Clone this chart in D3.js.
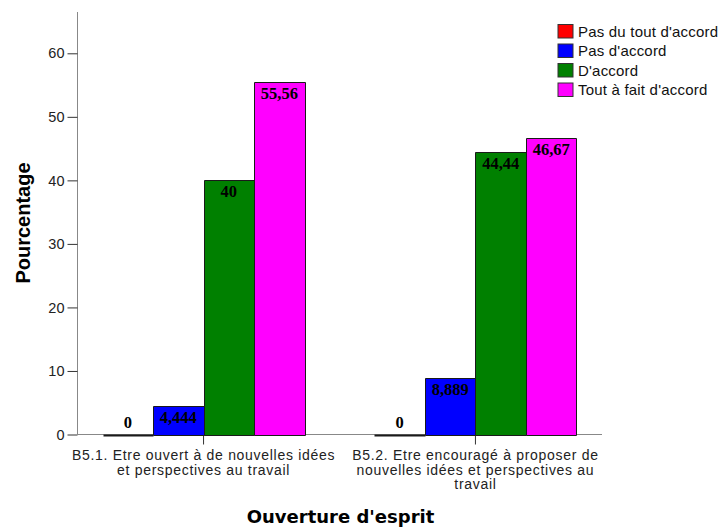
<!DOCTYPE html>
<html>
<head>
<meta charset="utf-8">
<script src="https://cdn.jsdelivr.net/npm/d3@7"></script>
<style>
  html, body { margin: 0; padding: 0; background: #fff; }
  svg { display: block; }
</style>
</head>
<body>
<svg id="chart" width="721" height="531"></svg>
<script>
// Categories on the x axis (each drawn over several lines)
const categories = ["B5.1", "B5.2"];
const categoryLines = [
  ["B5.1. Etre ouvert à de nouvelles idées", "et perspectives au travail"],
  ["B5.2. Etre encouragé à proposer de", "nouvelles idées et perspectives au", "travail"]
];

// Answer levels and their colours
const series = ["Pas du tout d'accord", "Pas d'accord", "D'accord", "Tout à fait d'accord"];
const seriesColors = ["#ff0000", "#0000ff", "#008000", "#ff00ff"];

// Percentages per category, one array per answer level
const pasDuToutDaccord = [0, 0];
const pasDaccord = [4.444, 8.889];
const daccord = [40, 44.44];
const toutAFaitDaccord = [55.56, 46.67];

// Displayed value labels (comma decimal)
const valueLabels = [
  ["0", "4,444", "40", "55,56"],
  ["0", "8,889", "44,44", "46,67"]
];

const yTicks = [0, 10, 20, 30, 40, 50, 60];

const seriesValues = [pasDuToutDaccord, pasDaccord, daccord, toutAFaitDaccord];
const rows = [];
categories.forEach((c, ci) => {
  series.forEach((s, si) => {
    rows.push({ cat: c, ci, s, si, v: seriesValues[si][ci], label: valueLabels[ci][si] });
  });
});

const svg = d3.select("#chart");
const plotLeft = 77, plotRight = 602, plotTop = 12, plotBottom = 434.5;

const y = d3.scaleLinear().domain([0, 66.5]).range([plotBottom, plotTop]);
const x = d3.scaleBand().domain(categories).range([plotLeft, plotRight])
  .paddingInner(0.257).paddingOuter(0.094);
const xs = d3.scaleBand().domain(series).range([0, x.bandwidth()]);
const color = d3.scaleOrdinal().domain(series).range(seriesColors);

// Y axis
const yAxis = svg.append("g")
  .attr("transform", `translate(${plotLeft + 0.5},0)`)
  .call(d3.axisLeft(y).tickValues(yTicks).tickSize(10).tickPadding(3).tickSizeOuter(0));
yAxis.select(".domain").attr("stroke", "#888").attr("d", `M0,${plotTop}V${plotBottom}`);
yAxis.selectAll(".tick line").attr("stroke", "#333");
yAxis.selectAll(".tick text")
  .attr("font-family", "'Liberation Sans', Arial, sans-serif")
  .attr("font-size", 14.5).attr("fill", "#222");

// X axis
const xAxis = svg.append("g")
  .attr("transform", `translate(0,${plotBottom})`)
  .call(d3.axisBottom(x).tickSize(10).tickSizeOuter(0).tickFormat(""));
xAxis.select(".domain").attr("stroke", "#888").attr("d", `M${plotLeft},0H${plotRight}`);
xAxis.selectAll(".tick line").attr("stroke", "#333");

// Category labels
categories.forEach((c, ci) => {
  const cx = x(c) + x.bandwidth() / 2;
  const t = svg.append("text")
    .attr("font-family", "'Liberation Sans', Arial, sans-serif")
    .attr("font-size", 14).attr("letter-spacing", 0.7)
    .attr("fill", "#222").attr("text-anchor", "middle");
  categoryLines[ci].forEach((line, li) => {
    t.append("tspan").attr("x", cx).attr("y", 460 + li * 14.5).text(line);
  });
});

// Bars (paths so that zero-height bars still show their outline)
svg.append("g").selectAll("path").data(rows).join("path")
  .attr("d", d => {
    const x0 = Math.round(x(d.cat) + xs(d.s)) + 0.5;
    const x1 = Math.round(x(d.cat) + xs(d.s) + xs.bandwidth()) + 0.5;
    const y0 = Math.round(y(0)) + 0.5;
    const y1 = Math.round(y(d.v)) + 0.5;
    return `M${x0},${y0}V${y1}H${x1}V${y0}Z`;
  })
  .attr("fill", d => color(d.s))
  .attr("stroke", "#1a1a1a").attr("stroke-width", d => d.v === 0 ? 2 : 1);

// Value labels
svg.append("g").selectAll("text").data(rows).join("text")
  .attr("x", d => x(d.cat) + xs(d.s) + xs.bandwidth() / 2)
  .attr("y", d => d.v === 0 ? y(0) - 7 : y(d.v) + 17)
  .attr("text-anchor", "middle")
  .attr("font-family", "'Liberation Serif', 'Times New Roman', serif")
  .attr("font-weight", "bold").attr("font-size", 16.5).attr("fill", "#000")
  .text(d => d.label);

// Axis titles
svg.append("text")
  .attr("transform", "translate(29.5,223) rotate(-90)")
  .attr("text-anchor", "middle")
  .attr("font-family", "'Liberation Sans', Arial, sans-serif")
  .attr("font-weight", "bold").attr("font-size", 20).attr("fill", "#000")
  .text("Pourcentage");

svg.append("text")
  .attr("x", 340.5).attr("y", 523)
  .attr("text-anchor", "middle")
  .attr("font-family", "'DejaVu Sans', Verdana, sans-serif")
  .attr("font-weight", "bold").attr("font-size", 18).attr("fill", "#000")
  .text("Ouverture d'esprit");

// Legend
const legend = svg.append("g").selectAll("g").data(series).join("g")
  .attr("transform", (d, i) => `translate(557.5,${24 + i * 19.5})`);
legend.append("rect")
  .attr("x", 0.5).attr("y", 0.5).attr("width", 15).attr("height", 13.5)
  .attr("fill", d => color(d)).attr("stroke", "#333");
legend.append("text")
  .attr("x", 20.5).attr("y", 12.5)
  .attr("font-family", "'Liberation Sans', Arial, sans-serif")
  .attr("font-size", 15).attr("letter-spacing", 0.2).attr("fill", "#111")
  .text(d => d);
</script>
</body>
</html>
